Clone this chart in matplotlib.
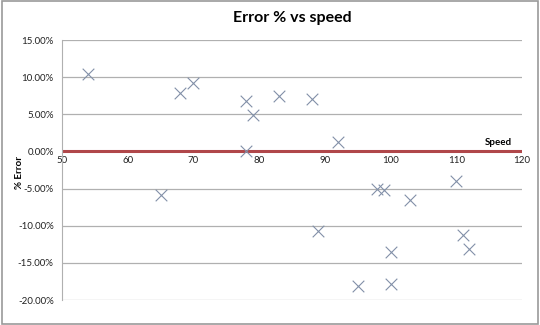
import matplotlib.pyplot as plt
from matplotlib.ticker import FuncFormatter

plt.rcParams["font.family"] = ["Lato", "DejaVu Sans"]

speed = [54, 68, 70, 78, 79, 78, 83, 88, 92, 65, 98, 99, 103, 110, 89, 111, 112, 100, 95, 100]
error = [10.4, 7.8, 9.2, 6.8, 4.9, 0.1, 7.4, 7.1, 1.3, -5.8, -5.0, -5.2, -6.6, -4.0, -10.7, -11.3, -13.1, -13.5, -18.1, -17.9]
yticks = [15, 10, 5, 0, -5, -10, -15, -20]
xticks = [50, 60, 70, 80, 90, 100, 110, 120]

fig = plt.figure(figsize=(5.4, 3.25), dpi=100)
ax = fig.add_axes([62/540, 1-300/325, 460/540, 260/325])

ax.scatter(speed, error, marker="x", s=70, color="#8290a8", linewidths=0.8, zorder=3)
ax.axhline(0, color="#b0474a", lw=2.2, zorder=2)

ax.set_xlim(50, 120)
ax.set_ylim(-20, 15)
ax.set_xticks(xticks)
ax.set_yticks(yticks)
ax.yaxis.set_major_formatter(FuncFormatter(lambda v, p: "%.2f%%" % v))
ax.grid(axis="y", color="#b0b0b0", lw=0.9)
ax.set_axisbelow(True)

for s in ["top", "right"]:
    ax.spines[s].set_visible(False)
ax.spines["left"].set_color("#b0b0b0")
ax.spines["bottom"].set_position(("data", 0))
ax.spines["bottom"].set_visible(False)
ax.tick_params(axis="both", length=0, labelsize=7, colors="#222222")
ax.tick_params(axis="y", pad=6)
ax.tick_params(axis="x", pad=3)

ax.set_title("Error % vs speed", fontsize=11.5, fontweight="bold", pad=13)
ax.set_ylabel("% Error", fontsize=7, fontweight="bold")
ax.yaxis.set_label_coords(-0.082, 0.49)
ax.text(114.3, 0.8, "Speed", fontsize=7, fontweight="bold")

fig.patches.append(plt.Rectangle((0.003, 0.004), 0.994, 0.992, transform=fig.transFigure,
                                 fill=False, edgecolor="#9a9a9a", lw=1.2))
fig.savefig("out.png", dpi=100)
